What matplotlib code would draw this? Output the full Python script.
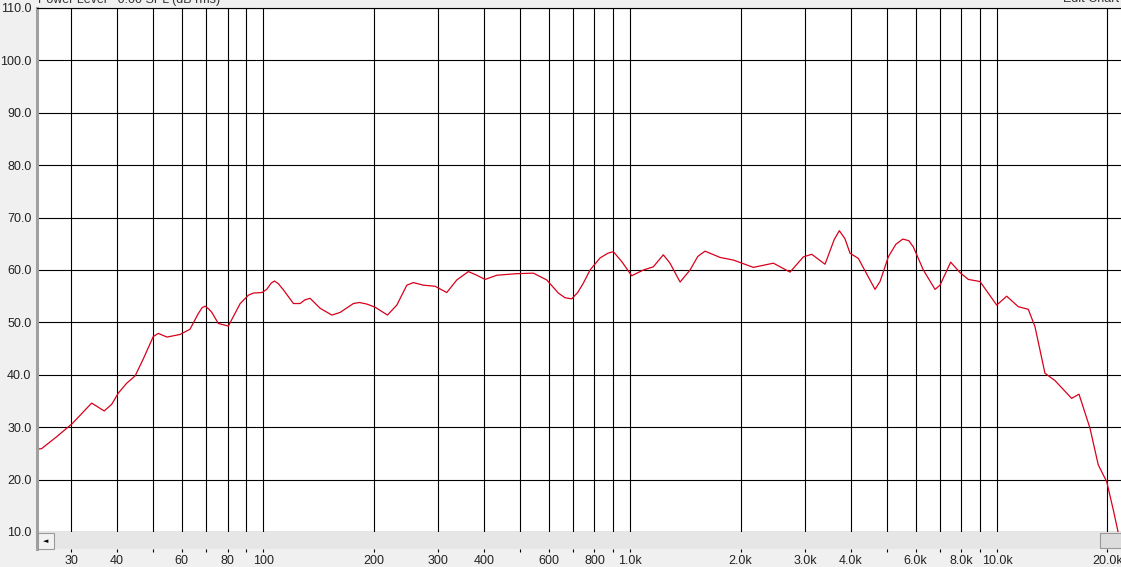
import matplotlib
matplotlib.use("Agg")
import matplotlib.pyplot as plt
from matplotlib.patches import Rectangle
from matplotlib.ticker import FixedLocator, NullLocator

plt.rcParams["font.family"] = ["Liberation Sans", "DejaVu Sans"]

# Frequency response (Hz, dB SPL)
freq = [24.2, 24.9, 27.4, 30.2, 34.1, 36.9, 38.7, 40.3, 42.5, 44.8, 47.2,
        50.2, 51.8, 54.7, 59.4, 63.2, 66.6, 68.2, 69.5, 71.0, 72.5, 75.5,
        80.4, 86.6, 91.2, 94.1, 99.2, 102.3, 105.2, 107.4, 110.0, 113.6, 121,
        126.1, 130.0, 134.3, 143, 153.9, 162.1, 176.2, 183.0, 191.7, 202,
        218.2, 231.4, 246.4, 256.8, 273.4, 294.2, 316.6, 337.2, 362.6,
        382.2, 402.7, 433.4, 491.3, 545.1, 592.9, 637.7, 665.0, 693.7,
        720.0, 746.1, 778, 828.5, 870.0, 900.6, 949.3, 1010.6, 1087, 1157,
        1232, 1285, 1369, 1457, 1530, 1601, 1759, 1912, 2168, 2458, 2729,
        2967, 3127, 3399, 3600, 3718, 3850, 3977, 4190, 4652, 4800, 5056,
        5300, 5536, 5750, 5916, 6299, 6779, 6994, 7477, 7931, 8354, 8989,
        9982, 10627, 11429, 12168, 12689, 13512, 14387, 15975, 16729, 17925,
        18880, 19906, 20749, 21411]
spl = [25.8, 25.9, 28.2, 30.7, 34.6, 33.1, 34.4, 36.5, 38.4, 39.8, 43.1,
       47.3, 47.9, 47.2, 47.7, 48.7, 51.7, 52.8, 53.1, 52.6, 51.9, 49.8,
       49.3, 53.6, 55.2, 55.6, 55.7, 56.3, 57.5, 57.9, 57.4, 56.2, 53.6,
       53.6, 54.3, 54.6, 52.7, 51.4, 51.9, 53.6, 53.8, 53.5, 52.9,
       51.4, 53.3, 57.1, 57.6, 57.1, 56.9, 55.7, 58.1, 59.7,
       59.0, 58.2, 59.0, 59.3, 59.4, 58.1, 55.6, 54.7, 54.5,
       55.7, 57.5, 60.0, 62.3, 63.2, 63.5, 61.6, 58.9, 60.0, 60.6,
       62.9, 61.3, 57.7, 60.0, 62.6, 63.6, 62.4, 61.9, 60.5, 61.3, 59.6,
       62.5, 63.0, 61.1, 65.8, 67.5, 66.0, 63.2, 62.2, 56.3, 57.8, 62.5,
       64.9, 65.9, 65.6, 64.4, 60.0, 56.3, 57.1, 61.5, 59.5, 58.2, 57.8,
       53.3, 55.0, 53.0, 52.5, 49.2, 40.3, 38.9, 35.5, 36.3, 29.8,
       22.8, 19.6, 14.2, 9.8]

x_ticks = [30, 40, 50, 60, 70, 80, 90, 100, 200, 300, 400, 500, 600, 700,
           800, 900, 1000, 2000, 3000, 4000, 5000, 6000, 7000, 8000, 9000,
           10000, 20000]
x_labels = ["30", "40", "", "60", "", "80", "", "100", "200", "300", "400",
            "", "600", "", "800", "", "1.0k", "2.0k", "3.0k", "4.0k", "",
            "6.0k", "", "8.0k", "", "10.0k", "20.0k"]
y_ticks = [10, 20, 30, 40, 50, 60, 70, 80, 90, 100, 110]

W, H = 1121, 567
fig = plt.figure(figsize=(W / 100, H / 100), dpi=100, facecolor="#f0f0f0")

# main chart area
ax = fig.add_axes([37 / W, (H - 532) / H, (W - 37) / W, 524 / H])
ax.set_facecolor("white")
ax.set_xscale("log")
ax.set_xlim(24.2, 21774)
ax.set_ylim(10, 110)
ax.xaxis.set_major_locator(FixedLocator(x_ticks))
ax.xaxis.set_minor_locator(NullLocator())
ax.set_xticklabels([])
ax.set_yticks(y_ticks)
ax.set_yticklabels([f"{v:.1f}" for v in y_ticks])
ax.tick_params(axis="both", length=0)
ax.tick_params(axis="y", pad=4, labelsize=9, labelcolor="#222222")
ax.grid(True, color="black", linewidth=0.8)
ax.set_axisbelow(True)
for side in ["top", "bottom"]:
    ax.spines[side].set_color("black")
    ax.spines[side].set_linewidth(0.8)
ax.spines["right"].set_visible(False)
ax.spines["left"].set_color("#a0a0a0")
ax.spines["left"].set_linewidth(2.2)

ax.plot(freq, spl, color="#d8001c", linewidth=0.9)

# scroll bar strip carrying the frequency labels
sax = fig.add_axes([37 / W, (H - 549) / H, (W - 37) / W, 17 / H])
sax.set_facecolor("#e6e6e6")
sax.set_xscale("log")
sax.set_xlim(24.2, 21774)
sax.set_ylim(0, 1)
sax.xaxis.set_major_locator(FixedLocator(x_ticks))
sax.xaxis.set_minor_locator(NullLocator())
sax.set_xticklabels(x_labels)
sax.set_yticks([])
sax.tick_params(axis="x", direction="out", length=2.5, width=0.8,
                pad=2, labelsize=9, labelcolor="#222222")
for side in ["top", "right", "bottom"]:
    sax.spines[side].set_visible(False)
sax.spines["left"].set_color("#a0a0a0")
sax.spines["left"].set_linewidth(2.2)

fig.patches.append(Rectangle((38 / W, (H - 549) / H), 16 / W, 16 / H,
                             transform=fig.transFigure, facecolor="#f2f2f2",
                             edgecolor="#9a9a9a", linewidth=0.8))
fig.text(46 / W, (H - 541) / H, "\u25c4", fontsize=5, ha="center",
         va="center", family="DejaVu Sans")
fig.patches.append(Rectangle((1100 / W, (H - 548) / H), 22 / W, 15 / H,
                             transform=fig.transFigure, facecolor="#dcdcdc",
                             edgecolor="#9a9a9a", linewidth=0.8))

# header texts, cut off at the top edge like the screenshot
fig.text(38 / W, (H - 2.5) / H, "Power Level - 0.00 SPL (dB rms)",
         fontsize=9, va="baseline", color="#333333")
fig.text(1063 / W, (H - 2.5) / H, "Edit Chart", fontsize=9,
         va="baseline", color="#333333")

fig.savefig("out.png", dpi=100, facecolor=fig.get_facecolor())
